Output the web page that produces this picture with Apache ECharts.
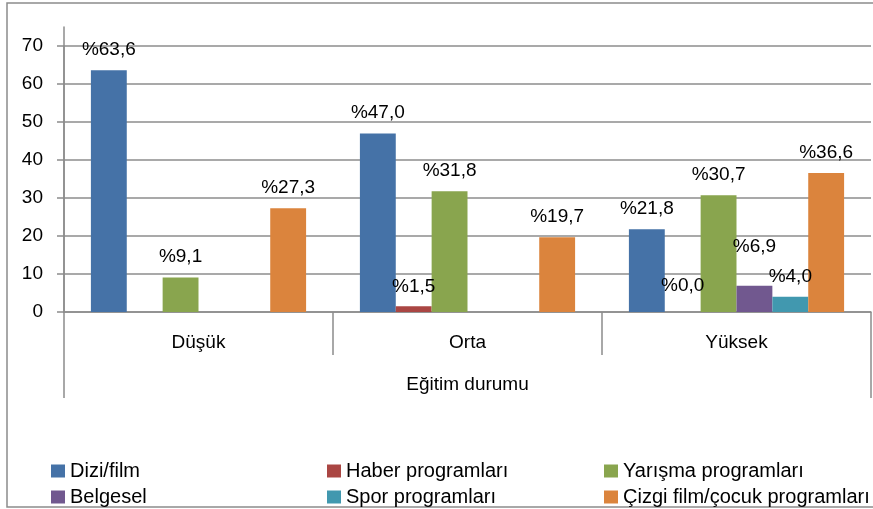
<!DOCTYPE html>
<html>
<head>
<meta charset="utf-8">
<script src="https://cdn.jsdelivr.net/npm/echarts@6/dist/echarts.min.js"></script>
<style>
  html, body { margin: 0; padding: 0; background: #fff; }
  #main { width: 873px; height: 509px; }
</style>
</head>
<body>
<div id="main"></div>
<script>
// kategoriler
var categories = ['Düşük', 'Orta', 'Yüksek'];
var axisTitle = ['Eğitim durumu'];
// seriler (null = çubuk yok)
var diziFilm = [63.6, 47.0, 21.8];
var haber = [null, 1.5, 0.0];
var yarisma = [9.1, 31.8, 30.7];
var belgesel = [null, null, 6.9];
var spor = [null, null, 4.0];
var cizgiFilm = [27.3, 19.7, 36.6];
var yTicks = [0, 10, 20, 30, 40, 50, 60, 70];

var FONT = 'Liberation Sans';
var GRID_COLOR = '#8c8c8c';

function pct(p) {
  if (p.value == null || p.value === '-') return '';
  return '%' + Number(p.value).toFixed(1).replace('.', ',');
}

// etiket mesafesi bazı noktalarda farklı
function toData(arr, distances) {
  return arr.map(function (v, i) {
    if (v == null) return '-';
    if (distances && distances[i] != null) {
      return { value: v, label: { distance: distances[i] } };
    }
    return v;
  });
}

function bar(name, color, data) {
  return {
    name: name,
    type: 'bar',
    xAxisIndex: 0,
    yAxisIndex: 0,
    barGap: '0%',
    barCategoryGap: '20%',
    itemStyle: { color: color },
    label: {
      show: true,
      position: 'top',
      distance: 11,
      formatter: pct,
      fontFamily: FONT,
      fontSize: 19,
      color: '#000'
    },
    data: data
  };
}

function legendCol(left, names) {
  return {
    orient: 'vertical',
    left: left,
    top: 461,
    height: 60,
    padding: 0,
    itemWidth: 14,
    itemHeight: 13,
    itemGap: 6,
    icon: 'rect',
    textStyle: { fontSize: 20, color: '#000', fontFamily: FONT },
    data: names
  };
}

var chart = echarts.init(document.getElementById('main'));
chart.setOption({
  animation: false,
  textStyle: { fontFamily: FONT },
  graphic: [{
    type: 'rect',
    shape: { x: 7, y: 3, width: 880, height: 504 },
    style: { fill: 'none', stroke: '#8c8c8c', lineWidth: 1.5 },
    silent: true
  }],
  grid: [
    { left: 64, right: 2, top: 46, bottom: 197 },
    { left: 64, right: 2, top: 27, bottom: 197 }
  ],
  xAxis: [{
    gridIndex: 0,
    type: 'category',
    data: categories,
    axisLine: { lineStyle: { color: GRID_COLOR, width: 1.5 } },
    axisTick: { show: true, length: 43, alignWithLabel: false, lineStyle: { color: GRID_COLOR, width: 1.5 } },
    axisLabel: { margin: 21, fontSize: 19, color: '#000', fontFamily: FONT }
  }, {
    gridIndex: 1,
    type: 'category',
    data: axisTitle,
    axisLine: { show: false },
    axisTick: { show: true, length: 86, lineStyle: { color: GRID_COLOR, width: 1.5 } },
    axisLabel: { margin: 63, fontSize: 19, color: '#000', fontFamily: FONT }
  }],
  yAxis: [{
    gridIndex: 0,
    type: 'value',
    min: yTicks[0],
    max: yTicks[yTicks.length - 1],
    interval: 10,
    axisLine: { show: true, lineStyle: { color: GRID_COLOR, width: 1.5 } },
    axisTick: { show: true, length: 7, lineStyle: { color: GRID_COLOR, width: 1.5 } },
    splitLine: { show: true, lineStyle: { color: GRID_COLOR, width: 1.5 } },
    axisLabel: { margin: 21, fontSize: 19, color: '#000', fontFamily: FONT }
  }, {
    gridIndex: 1,
    type: 'value',
    min: 0,
    max: 75,
    axisLine: { show: true, lineStyle: { color: GRID_COLOR, width: 1.5 } },
    axisTick: { show: false },
    splitLine: { show: false },
    axisLabel: { show: false }
  }],
  legend: [
    legendCol(51, ['Dizi/film', 'Belgesel']),
    legendCol(327, ['Haber programları', 'Spor programları']),
    legendCol(604, ['Yarışma programları', 'Çizgi film/çocuk programları'])
  ],
  series: [
    bar('Dizi/film', '#4572A7', toData(diziFilm)),
    bar('Haber programları', '#AA4643', toData(haber, [null, 10, 17])),
    bar('Yarışma programları', '#89A54E', toData(yarisma)),
    bar('Belgesel', '#71588F', toData(belgesel, [null, null, 30])),
    bar('Spor programları', '#4198AF', toData(spor)),
    bar('Çizgi film/çocuk programları', '#DB843D', toData(cizgiFilm))
  ]
});
</script>
</body>
</html>
